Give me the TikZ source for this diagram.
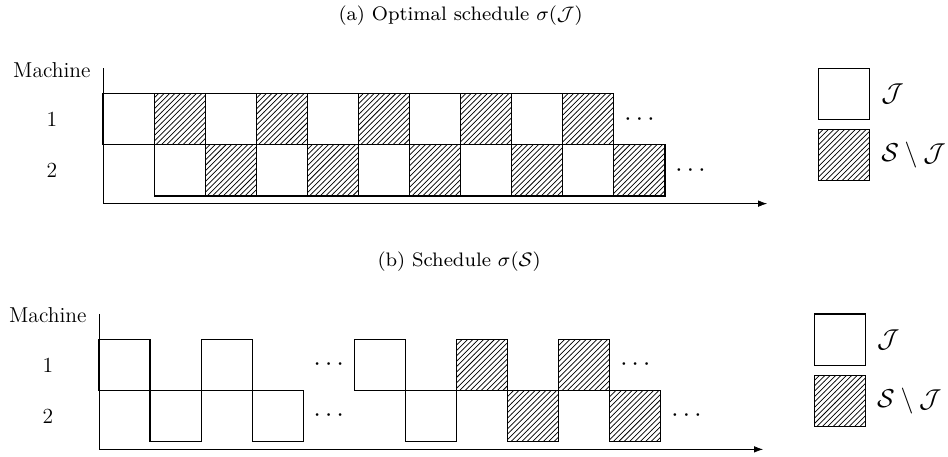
\documentclass[tikz,border=0pt]{standalone}
\usetikzlibrary{patterns,positioning,arrows.meta}
\begin{document}
\begin{tikzpicture}[
        % --- CÁC THIẾT LẬP CHUNG ---
        % Ô công việc (hình vuông trắng)
        job/.style={
            rectangle,
            draw, % Vẽ đường viền
            minimum size=1cm,
            inner sep=0pt,
            semithick
        },
        % Ô công việc gạch chéo
        hatched/.style={
            job,
            pattern=north east lines % Kiểu gạch chéo
        },
        % Trục thời gian
        axis/.style={
            -{Latex[length=5pt,width=3.6pt]}, % Kiểu mũi tên
            thin
        },
        % Nhãn máy và chú thích
        machlabel/.style={font=\large},
        legendlabel/.style={font=\Large},
        etc/.style={font=\Large},
        subtitle/.style={font=\footnotesize, scale=1.36}
    ]
    \path[use as bounding box] (-2.016,-5.108) rectangle (16.54,3.836);

    % --- HÌNH (a): LỊCH TỐI ƯU ---
    \begin{scope}[xshift=0cm, yshift=0cm]
        % Trục
        \coordinate (T1) at (0,2.5);
        \coordinate (O1) at (0,-0.15);
        \coordinate (E1) at (13,-0.15);
        \draw[axis] (T1) -- (O1) -- (E1);

        % Nhãn
        \node[subtitle] (C1) at (7,3.53) {(a) Optimal schedule $\sigma(\mathcal{J})$};
        \node[machlabel] (M1) at (-1,2.47) {Machine};
        \node[machlabel] (k1a) at (-1,1.5) {1};
        \node[machlabel] (k1b) at (-1,0.5) {2};

        % Máy 1
        \node[job] (u1a) at (0.5,1.5) {};
        \node[hatched] (u1b) at (1.5,1.5) {};
        \node[job] (u1c) at (2.5,1.5) {};
        \node[hatched] (u1d) at (3.5,1.5) {};
        \node[job] (u1e) at (4.5,1.5) {};
        \node[hatched] (u1f) at (5.5,1.5) {};
        \node[job] (u1g) at (6.5,1.5) {};
        \node[hatched] (u1h) at (7.5,1.5) {};
        \node[job] (u1i) at (8.5,1.5) {};
        \node[hatched] (u1j) at (9.5,1.5) {};
        \node[etc] (d1a) at (10.5,1.5) {$\cdots$};

        % Máy 2
        \node[job] (v1a) at (1.5,0.5) {};
        \node[hatched] (v1b) at (2.5,0.5) {};
        \node[job] (v1c) at (3.5,0.5) {};
        \node[hatched] (v1d) at (4.5,0.5) {};
        \node[job] (v1e) at (5.5,0.5) {};
        \node[hatched] (v1f) at (6.5,0.5) {};
        \node[job] (v1g) at (7.5,0.5) {};
        \node[hatched] (v1h) at (8.5,0.5) {};
        \node[job] (v1i) at (9.5,0.5) {};
        \node[hatched] (v1j) at (10.5,0.5) {};
        \node[etc] (d1b) at (11.5,0.5) {$\cdots$};

        % Chú thích
        \node[job] (L1a) at (14.5,2) {};
        \node[hatched] (L1b) at (14.5,0.8) {};
        \node[legendlabel, right=0.1cm of L1a] (J1a) {$\mathcal{J}$};
        \node[legendlabel, right=0.1cm of L1b] (J1b) {$\mathcal{S}\setminus\mathcal{J}$};
    \end{scope}

    % --- HÌNH (b): LỊCH CỦA S ---
    \begin{scope}[xshift=-0.08cm, yshift=-4.81cm]
        % Trục
        \coordinate (T2) at (0,2.5);
        \coordinate (O2) at (0,-0.15);
        \coordinate (E2) at (13,-0.15);
        \draw[axis] (T2) -- (O2) -- (E2);

        % Nhãn
        \node[subtitle] (C2) at (7.05,3.53) {(b) Schedule $\sigma(\mathcal{S})$};
        \node[machlabel] (M2) at (-1,2.47) {Machine};
        \node[machlabel] (k2a) at (-1,1.5) {1};
        \node[machlabel] (k2b) at (-1,0.5) {2};

        % Máy 1
        \node[job] (u2a) at (0.5,1.5) {};
        \node[job] (u2b) at (2.5,1.5) {};
        \node[etc] (d2a) at (4.5,1.5) {$\cdots$};
        \node[job] (u2c) at (5.5,1.5) {};
        \node[hatched] (u2d) at (7.5,1.5) {};
        \node[hatched] (u2e) at (9.5,1.5) {};
        \node[etc] (d2b) at (10.5,1.5) {$\cdots$};

        % Máy 2
        \node[job] (v2a) at (1.5,0.5) {};
        \node[job] (v2b) at (3.5,0.5) {};
        \node[etc] (d2c) at (4.5,0.5) {$\cdots$};
        \node[job] (v2c) at (6.5,0.5) {};
        \node[hatched] (v2d) at (8.5,0.5) {};
        \node[hatched] (v2e) at (10.5,0.5) {};
        \node[etc] (d2d) at (11.5,0.5) {$\cdots$};

        % Chú thích
        \node[job] (L2a) at (14.5,2) {};
        \node[hatched] (L2b) at (14.5,0.8) {};
        \node[legendlabel, right=0.1cm of L2a] (J2a) {$\mathcal{J}$};
        \node[legendlabel, right=0.1cm of L2b] (J2b) {$\mathcal{S}\setminus\mathcal{J}$};
    \end{scope}

\end{tikzpicture}
\end{document}
